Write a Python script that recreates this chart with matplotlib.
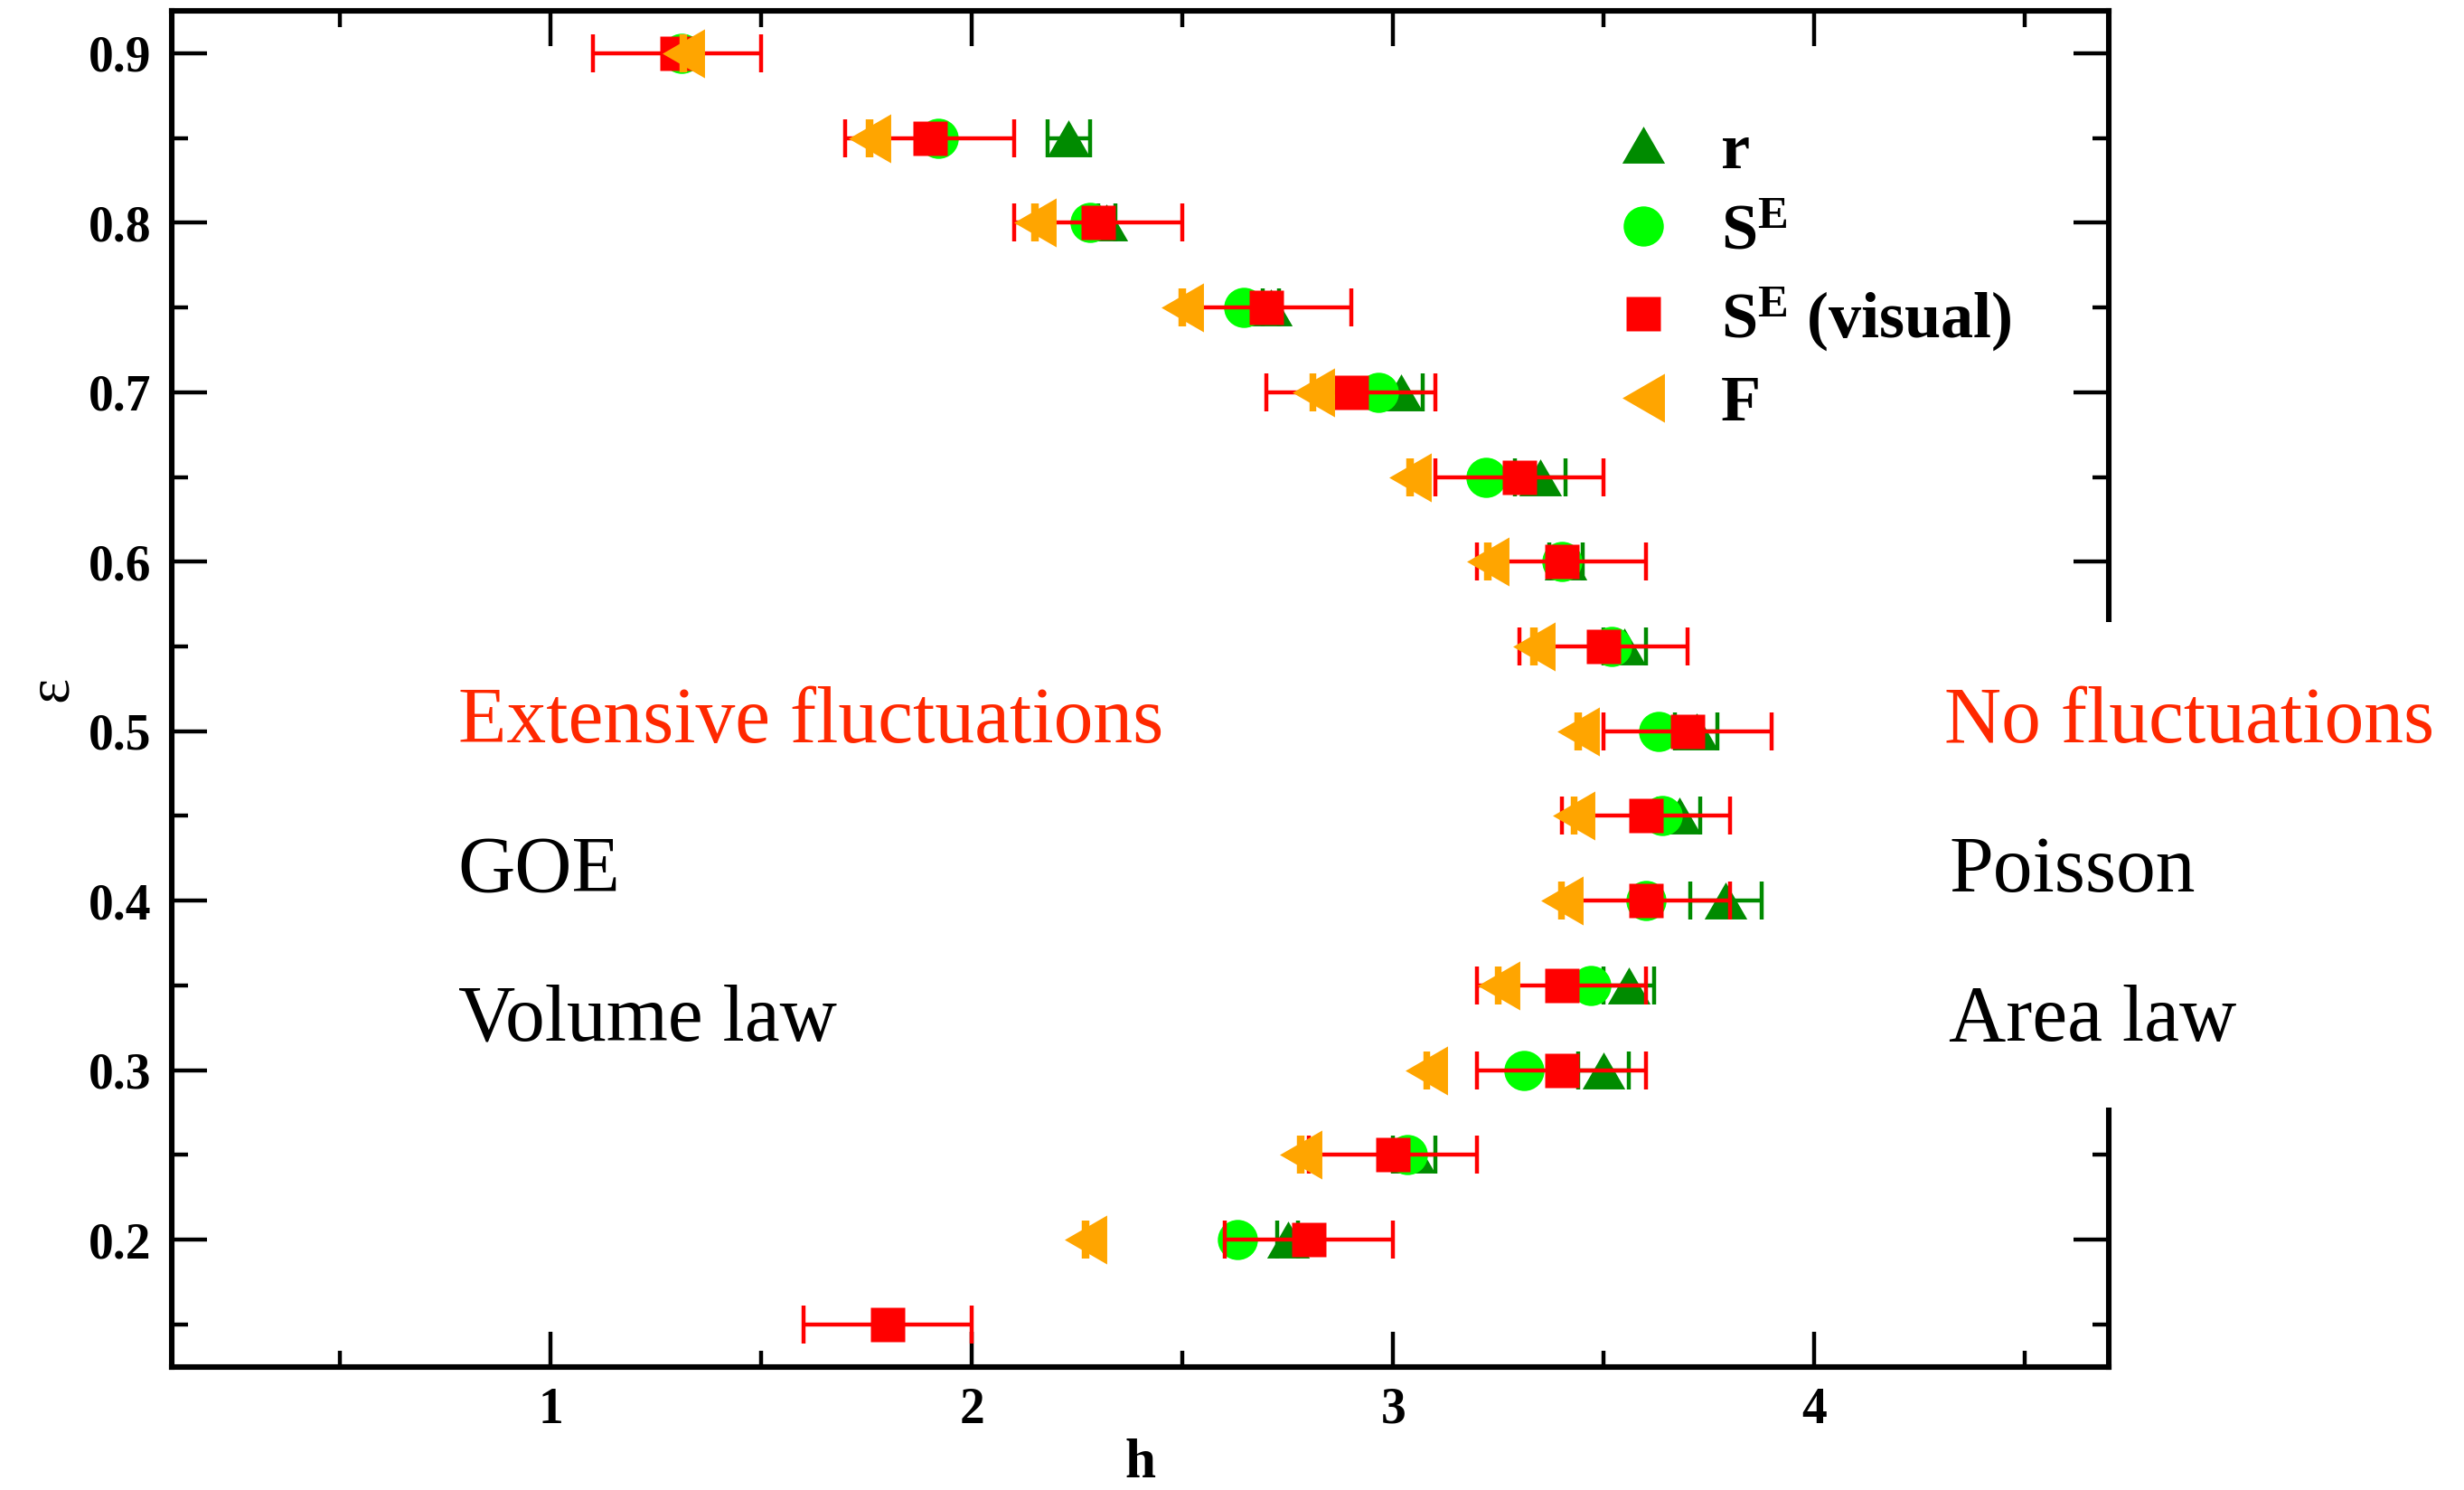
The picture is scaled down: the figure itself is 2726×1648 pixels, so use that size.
import numpy as np
import matplotlib
matplotlib.use('Agg')
import matplotlib.pyplot as plt
from matplotlib.lines import Line2D
from matplotlib.patches import Rectangle

plt.rcParams['font.family'] = ['Liberation Serif', 'DejaVu Serif']
plt.rcParams['mathtext.fontset'] = 'custom'
plt.rcParams['mathtext.rm'] = 'Liberation Serif'
plt.rcParams['mathtext.bf'] = 'Liberation Serif:bold'
plt.rcParams['mathtext.it'] = 'Liberation Serif:italic'

nan = np.nan

# disorder strength per row
eps = np.array([0.9, 0.85, 0.8, 0.75, 0.7, 0.65, 0.6, 0.55,
                0.5, 0.45, 0.4, 0.35, 0.3, 0.25, 0.2, 0.15])

# critical h from level statistics r
h_r = np.array([nan, 2.23, 2.32, 2.71, 3.02, 3.35, 3.41, 3.55,
                3.72, 3.68, 3.79, 3.56, 3.50, 3.05, 2.75, nan])
err_r = np.array([nan, 0.05, 0.02, 0.02, 0.05, 0.06, 0.04, 0.05,
                  0.05, 0.05, 0.085, 0.06, 0.06, 0.05, 0.025, nan])

# critical h from entanglement entropy S^E
h_se = np.array([1.31, 1.92, 2.28, 2.645, 2.965, 3.22, 3.40, 3.52,
                 3.63, 3.64, 3.60, 3.47, 3.31, 3.035, 2.63, nan])

h_vis = np.array([1.3, 1.9, 2.3, 2.7, 2.9, 3.3, 3.4, 3.5,
                  3.7, 3.6, 3.6, 3.4, 3.4, 3.0, 2.8, 1.8])
err_vis = np.array([0.2] * 16)

# critical h from fidelity F
h_f = np.array([1.315, 1.757, 2.15, 2.50, 2.81, 3.04, 3.225, 3.335,
                3.44, 3.43, 3.40, 3.25, 3.08, 2.78, 2.27, nan])
err_f = np.array([0.004] * 16)

dgreen = '#008b00'
lime = '#00ff00'
red = '#ff0000'
orange = '#ffa500'
txt_red = '#ff2800'

tri_up = [(-1, -0.866), (1, -0.866), (0, 0.866)]
tri_left = [(0.866, -1), (0.866, 1), (-0.866, 0)]

ebar = dict(fmt='none', elinewidth=1.6, capsize=7.5, capthick=1.6)

fig = plt.figure(figsize=(13.63, 8.24), dpi=200)
ax = fig.add_axes([0.0697, 0.0827, 0.7862, 0.9100])

m = ~np.isnan(h_r)
ax.errorbar(h_r[m], eps[m], xerr=err_r[m], ecolor=dgreen, zorder=2, **ebar)
ax.plot(h_r[m], eps[m], ls='none', marker=tri_up, ms=17, color=dgreen,
        mec='none', zorder=3)

m = ~np.isnan(h_se)
ax.plot(h_se[m], eps[m], ls='none', marker='o', ms=16, color=lime,
        mec='none', zorder=4)

ax.errorbar(h_vis, eps, xerr=err_vis, ecolor=red, zorder=5, **ebar)
ax.plot(h_vis, eps, ls='none', marker='s', ms=14, color=red,
        mec='none', zorder=6)

m = ~np.isnan(h_f)
ax.errorbar(h_f[m], eps[m], xerr=err_f[m], ecolor=orange, zorder=7, **ebar)
ax.plot(h_f[m], eps[m], ls='none', marker=tri_left, ms=19.5, color=orange,
        mec='none', zorder=8)

ax.set_xlim(0.1, 4.7)
ax.set_ylim(0.125, 0.925)
ax.set_xticks([1, 2, 3, 4])
ax.set_xticks([0.5, 1.5, 2.5, 3.5, 4.5], minor=True)
ax.set_yticks(np.arange(0.2, 0.91, 0.1))
ax.set_yticks(np.arange(0.15, 0.9, 0.1), minor=True)
ax.set_xticklabels(['1', '2', '3', '4'], fontweight='bold')
ax.set_yticklabels(['0.2', '0.3', '0.4', '0.5', '0.6', '0.7', '0.8', '0.9'],
                   fontweight='bold')
ax.tick_params(which='both', direction='in', top=True, right=True,
               width=1.6, labelsize=20, pad=8)
ax.tick_params(which='major', length=14)
ax.tick_params(which='minor', length=6.5)
for s in ax.spines.values():
    s.set_linewidth(2.2)

ax.set_xlabel('h', fontsize=22, fontweight='bold')
ax.xaxis.set_label_coords(0.5, -0.053)
ax.set_ylabel('ε', fontsize=24)
ax.yaxis.label.set_va('center')
ax.yaxis.set_label_coords(-0.062, 0.5)

# blank out the right frame behind the phase labels
ax.add_patch(Rectangle((0.905, 0.191), 0.3, 0.358, transform=ax.transAxes,
                       facecolor='white', edgecolor='none', clip_on=False,
                       zorder=9))

ax.text(0.78, 0.4935, 'Extensive fluctuations', color=txt_red, fontsize=31.5,
        va='baseline', zorder=10)
ax.text(0.78, 0.4056, 'GOE', fontsize=31.5, va='baseline', zorder=10)
ax.text(0.78, 0.3176, 'Volume law', fontsize=31.5, va='baseline', zorder=10)
ax.text(4.31, 0.4935, 'No fluctuations', color=txt_red, fontsize=31.5,
        va='baseline', zorder=10, clip_on=False)
ax.text(4.32, 0.4056, 'Poisson', fontsize=31.5, va='baseline', zorder=10,
        clip_on=False)
ax.text(4.32, 0.3176, 'Area law', fontsize=31.5, va='baseline', zorder=10,
        clip_on=False)

handles = [
    Line2D([], [], ls='none', marker=tri_up, ms=17, color=dgreen, mec='none'),
    Line2D([], [], ls='none', marker='o', ms=16, color=lime, mec='none'),
    Line2D([], [], ls='none', marker='s', ms=14, color=red, mec='none'),
    Line2D([], [], ls='none', marker=tri_left, ms=19.5, color=orange, mec='none'),
]
labels = ['r', r'$\mathbf{S}^{\mathbf{E}}$', r'$\mathbf{S}^{\mathbf{E}}$ (visual)', 'F']
ax.legend(handles, labels, loc='upper left', bbox_to_anchor=(0.743, 0.918),
          frameon=False, borderpad=0, borderaxespad=0, handlelength=1.0,
          handletextpad=0.68, labelspacing=0.34,
          prop={'family': 'Liberation Serif', 'weight': 'bold', 'size': 26})

fig.savefig('out.png', dpi=200)
